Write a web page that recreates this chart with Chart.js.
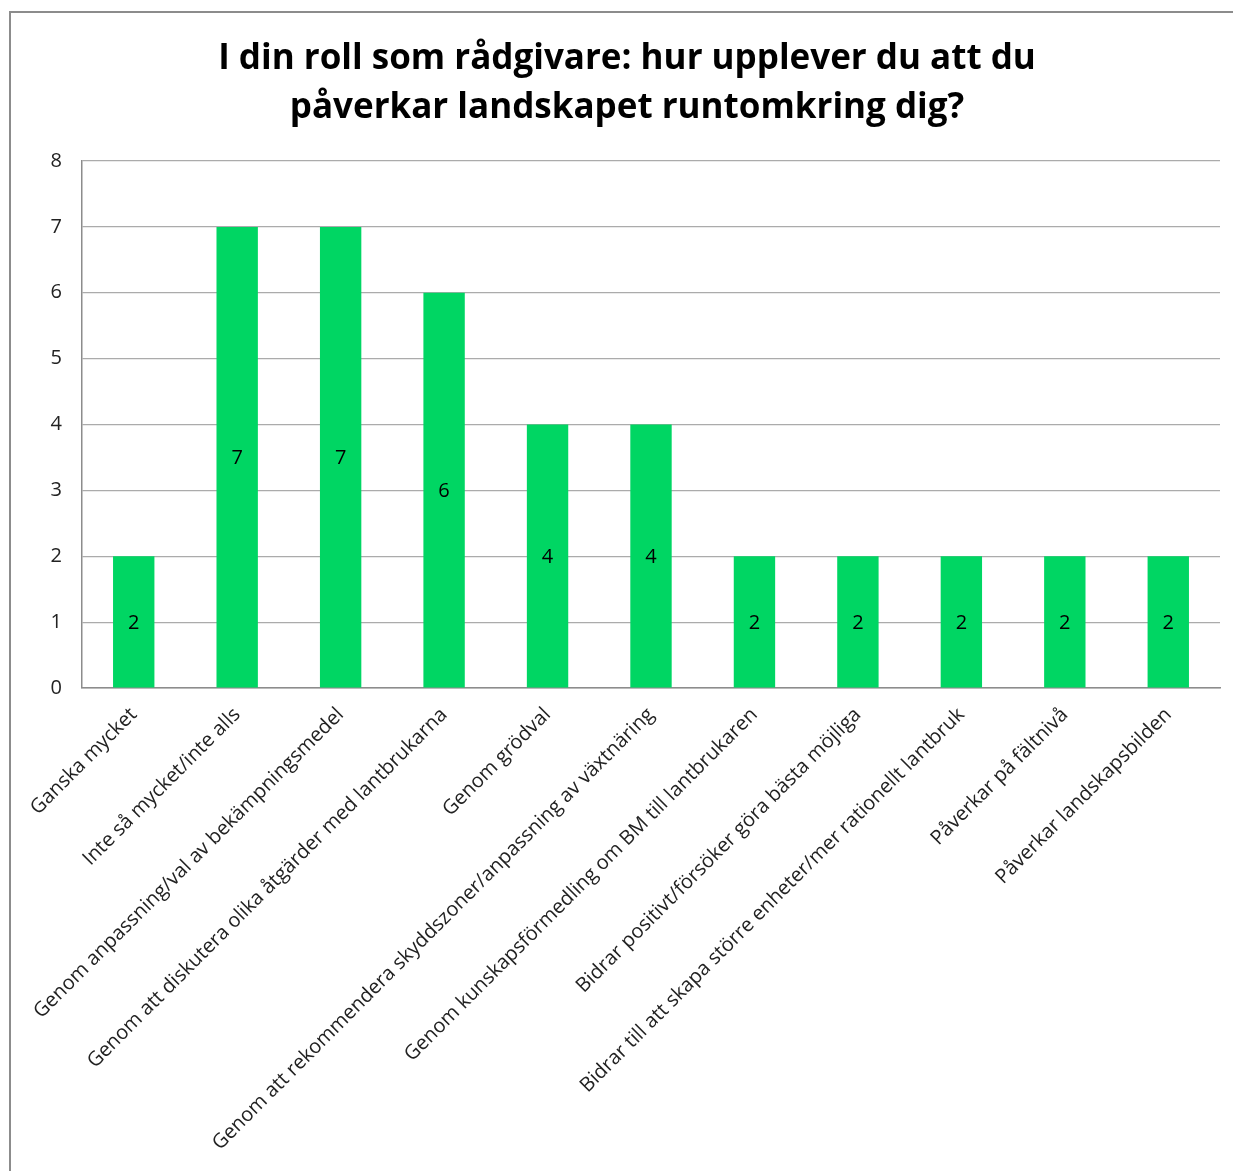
<!DOCTYPE html>
<html>
<head>
<meta charset="utf-8">
<script src="https://cdn.jsdelivr.net/npm/chart.js@4.4.1/dist/chart.umd.min.js"></script>
<style>
    html, body { margin: 0; padding: 0; background: #fff; overflow: hidden; }
    #wrap { position: relative; width: 1233px; height: 1171px; }
    #frame { position: absolute; left: 9px; top: 11px; width: 1240px; height: 1200px; border: 2px solid #8c8c8c; box-sizing: border-box; }
    canvas { position: absolute; left: 0; top: 0; }
</style>
</head>
<body>
<div id="wrap">
    <div id="frame"></div>
    <canvas id="chart" width="1233" height="1171"></canvas>
</div>
<script>
const titleLines = ['I din roll som rådgivare: hur upplever du att du', 'påverkar landskapet runtomkring dig?'];

const categories = [
    'Ganska mycket',
    'Inte så mycket/inte alls',
    'Genom anpassning/val av bekämpningsmedel',
    'Genom att diskutera olika åtgärder med lantbrukarna',
    'Genom grödval',
    'Genom att rekommendera skyddszoner/anpassning av växtnäring',
    'Genom kunskapsförmedling om BM till lantbrukaren',
    'Bidrar positivt/försöker göra bästa möjliga',
    'Bidrar till att skapa större enheter/mer rationellt lantbruk',
    'Påverkar på fältnivå',
    'Påverkar landskapsbilden'
];

const counts = [2, 7, 7, 6, 4, 4, 2, 2, 2, 2, 2];

const yTicks = [0, 1, 2, 3, 4, 5, 6, 7, 8];

const fontFamily = '"Open Sans", "Noto Sans", sans-serif';

// value labels in the middle of each bar
const barValueLabels = {
    id: 'barValueLabels',
    afterDatasetsDraw(chart) {
        const ctx = chart.ctx;
        const meta = chart.getDatasetMeta(0);
        ctx.save();
        ctx.font = '20px ' + fontFamily;
        ctx.fillStyle = '#000';
        ctx.textAlign = 'center';
        ctx.textBaseline = 'middle';
        meta.data.forEach((bar, i) => {
            const midY = (bar.y + bar.base) / 2;
            ctx.fillText(String(counts[i]), bar.x, midY + 1);
        });
        ctx.restore();
    }
};

new Chart(document.getElementById('chart').getContext('2d'), {
    type: 'bar',
    data: {
        labels: categories,
        datasets: [{
            data: counts,
            backgroundColor: '#00d663',
            borderWidth: 0,
            barPercentage: 0.4,
            categoryPercentage: 1.0
        }]
    },
    options: {
        responsive: false,
        animation: false,
        layout: { padding: { top: 8, right: 13, left: 34, bottom: 0 } },
        plugins: {
            legend: { display: false },
            tooltip: { enabled: false },
            title: {
                display: true,
                text: titleLines,
                color: '#000',
                font: { family: fontFamily, size: 35, weight: 'bold', lineHeight: 1.4 },
                padding: { top: 26.5, bottom: 28.5 }
            }
        },
        scales: {
            x: {
                grid: { display: false, drawTicks: false },
                border: { color: '#8c8c8c', width: 1.5 },
                ticks: {
                    color: '#222',
                    font: { family: fontFamily, size: 20 },
                    maxRotation: 45,
                    minRotation: 45,
                    autoSkip: false,
                    padding: 15
                },
                afterFit(scale) { scale.height = 483; }
            },
            y: {
                min: 0,
                max: 8,
                afterBuildTicks(scale) { scale.ticks = yTicks.map(v => ({ value: v })); },
                grid: { color: '#ababab', lineWidth: 1.2, drawTicks: false },
                border: { color: '#8c8c8c', width: 1.5 },
                ticks: {
                    color: '#222',
                    font: { family: fontFamily, size: 20 },
                    padding: 20
                },
                afterFit(scale) { scale.width = 48; }
            }
        }
    },
    plugins: [barValueLabels]
});
</script>
</body>
</html>
